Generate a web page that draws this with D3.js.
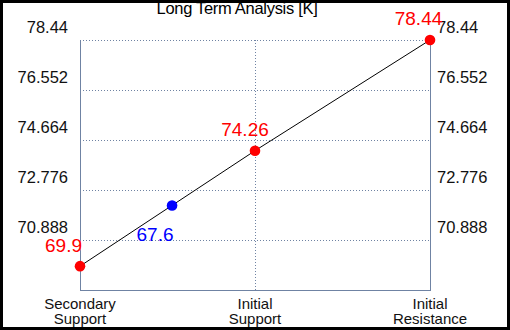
<!DOCTYPE html>
<html lang="en">
<head>
<meta charset="UTF-8" />
<title>Long Term Analysis [K]</title>
<script src="https://d3js.org/d3.v7.min.js"></script>
<style>
    body { margin: 0; padding: 0; background: #fff; }
    svg { display: block; font-family: Arial, "Liberation Sans", sans-serif; }
    .grid { stroke: #6f83a3; stroke-dasharray: 1,2; stroke-width: 1; }
    .axisline { stroke: #6f83a3; stroke-width: 1; }
    .tick-label { font-size: 16.5px; fill: #111; }
    .cat-label { font-size: 15px; fill: #111; }
</style>
</head>
<body>
<svg id="chart" width="510" height="330"></svg>
<script>
    // chart data
    const categories = ["Secondary Support", "Initial Support", "Initial Resistance"];
    const levels = [69.9, 74.26, 78.44];
    const yTicks = [70.888, 72.776, 74.664, 76.552, 78.44];
    // current price marker: label value, position along the line (category units, value units)
    const currentLabel = 67.6;
    const currentPos = [0.526, 72.19];

    const W = 510, H = 330;
    const plotLeft = 80, plotRight = 430, plotTop = 40, plotBottom = 290;

    const svg = d3.select("#chart");

    // outer frame
    svg.append("rect").attr("x", 1.5).attr("y", 1.5).attr("width", W - 3).attr("height", H - 3)
        .attr("fill", "#fff").attr("stroke", "#000").attr("stroke-width", 3);

    const x = d3.scaleLinear().domain([0, categories.length - 1]).range([plotLeft, plotRight]);
    const y = d3.scaleLinear().domain([69.0, 78.44]).range([plotBottom, plotTop]);

    // horizontal gridlines
    svg.selectAll(".hgrid").data(yTicks).enter().append("line")
        .attr("class", "grid")
        .attr("x1", plotLeft).attr("x2", plotRight)
        .attr("y1", d => y(d) + 0.5).attr("y2", d => y(d) + 0.5);

    // vertical gridline for the middle category
    svg.selectAll(".vgrid").data(categories.slice(1, -1)).enter().append("line")
        .attr("class", "grid")
        .attr("x1", (d, i) => x(i + 1) + 0.5).attr("x2", (d, i) => x(i + 1) + 0.5)
        .attr("y1", plotTop).attr("y2", plotBottom);

    // axes frame lines (left, right, bottom)
    svg.append("line").attr("class", "axisline")
        .attr("x1", plotLeft + 0.5).attr("x2", plotLeft + 0.5).attr("y1", plotTop).attr("y2", plotBottom + 0.5);
    svg.append("line").attr("class", "axisline")
        .attr("x1", plotRight + 0.5).attr("x2", plotRight + 0.5).attr("y1", plotTop).attr("y2", plotBottom + 0.5);
    svg.append("line").attr("class", "axisline")
        .attr("x1", plotLeft).attr("x2", plotRight + 1).attr("y1", plotBottom + 0.5).attr("y2", plotBottom + 0.5);

    // tick labels, both sides, sitting above their gridline
    svg.selectAll(".ltick").data(yTicks).enter().append("text")
        .attr("class", "tick-label")
        .attr("x", 68).attr("y", d => y(d) - 7)
        .attr("text-anchor", "end")
        .text(d => d);
    svg.selectAll(".rtick").data(yTicks).enter().append("text")
        .attr("class", "tick-label")
        .attr("x", 437).attr("y", d => y(d) - 7)
        .attr("text-anchor", "start")
        .text(d => d);

    // category labels
    const catLabel = svg.selectAll(".cat").data(categories).enter().append("text")
        .attr("class", "cat-label")
        .attr("text-anchor", "middle")
        .attr("x", (d, i) => x(i))
        .attr("y", 309);
    catLabel.selectAll("tspan").data(d => d.split(" ")).enter().append("tspan")
        .attr("x", function () { return d3.select(this.parentNode).attr("x"); })
        .attr("dy", (d, i) => i === 0 ? 0 : 15)
        .text(d => d);

    // title
    svg.append("text").attr("x", 237).attr("y", 14)
        .attr("text-anchor", "middle").attr("font-size", "16.5px").attr("fill", "#000")
        .attr("letter-spacing", "-0.3")
        .text("Long Term Analysis [K]");

    // line through the levels
    const line = d3.line().x((d, i) => x(i)).y(d => y(d));
    svg.append("path").datum(levels)
        .attr("d", line).attr("fill", "none").attr("stroke", "#000").attr("stroke-width", 1);

    // level points
    svg.selectAll(".pt").data(levels).enter().append("circle")
        .attr("cx", (d, i) => x(i)).attr("cy", d => y(d)).attr("r", 5.3)
        .attr("fill", "#ff0000");

    // level labels
    const labelOffsets = [[-16.5, -14], [-10, -15], [-11.5, -15]];
    svg.selectAll(".pl").data(levels).enter().append("text")
        .attr("x", (d, i) => x(i) + labelOffsets[i][0])
        .attr("y", (d, i) => y(d) + labelOffsets[i][1])
        .attr("text-anchor", "middle").attr("font-size", "19px").attr("fill", "#ff0000")
        .text(d => d);

    // current price marker
    svg.append("circle")
        .attr("cx", x(currentPos[0])).attr("cy", y(currentPos[1])).attr("r", 5.3)
        .attr("fill", "#0000ff");
    svg.append("text")
        .attr("x", x(currentPos[0]) - 17).attr("y", y(currentPos[1]) + 35)
        .attr("text-anchor", "middle").attr("font-size", "19px").attr("fill", "#0000ff")
        .text(currentLabel);
</script>
</body>
</html>
